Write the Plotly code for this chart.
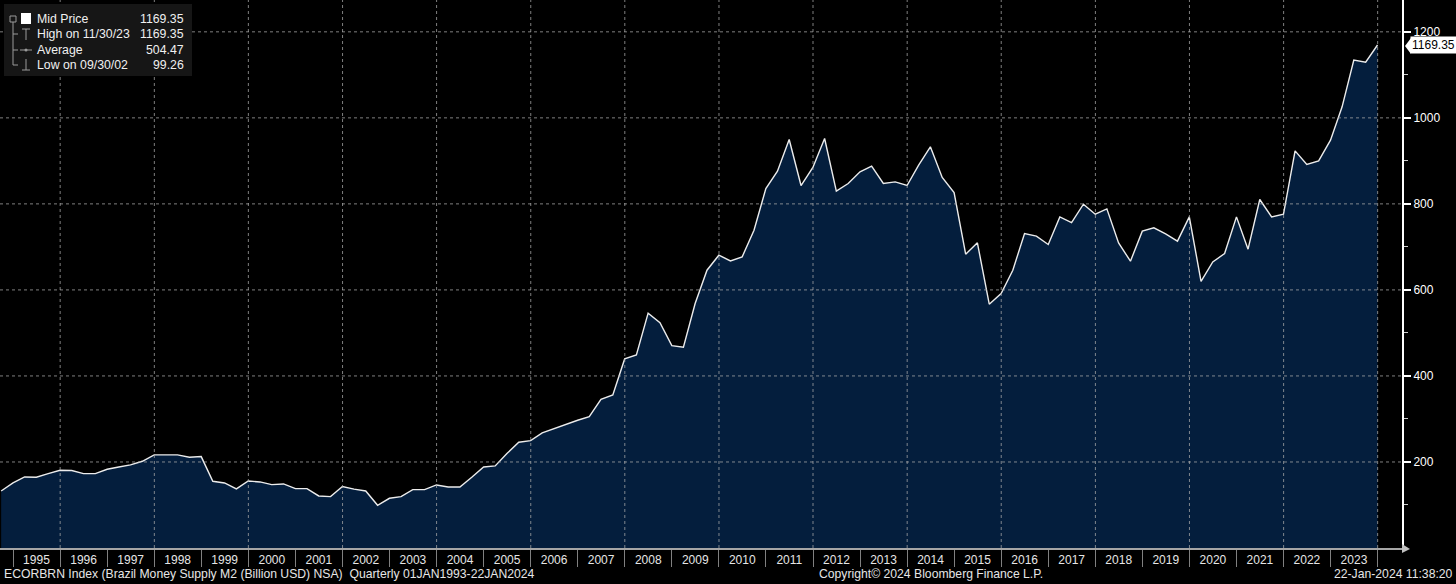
import plotly.graph_objects as go

# Brazil Money Supply M2 (Billion USD), quarterly
quarter_ends = ["03-31", "06-30", "09-30", "12-31"]
dates = [f"{1994 + (k + 2) // 4}-{quarter_ends[(k + 2) % 4]}" for k in range(118)]

m2_values = [
    132.6, 151.2, 165.2, 164.4, 173.0, 180.7, 180.0, 173.0, 173.0, 183.0,
    188.4, 193.1, 201.6, 216.4, 216.4, 216.4, 210.9, 212.5, 155.1, 151.2,
    137.3, 155.9, 153.6, 147.4, 148.9, 138.1, 138.1, 121.0, 119.5, 143.0,
    137.0, 132.6, 99.26, 115.6, 119.5, 135.7, 135.7, 146.6, 141.9, 141.9,
    164.4, 188.4, 190.8, 219.5, 245.8, 249.7, 267.5, 277.6, 286.9, 297.0,
    305.5, 345.8, 355.9, 439.6, 448.9, 546.0, 524.0, 470.6, 466.7, 568.3,
    645.8, 680.7, 667.5, 676.8, 738.8, 835.7, 876.1, 949.7, 842.7, 884.6,
    952.0, 829.5, 847.4, 874.5, 887.7, 847.4, 851.2, 842.7, 890.0, 932.6,
    861.3, 826.4, 683.0, 709.4, 566.7, 591.6, 645.8, 731.1, 724.9, 705.5,
    769.8, 756.7, 799.3, 776.0, 788.4, 709.4, 666.7, 736.5, 744.3, 730.3,
    713.3, 769.8, 620.0, 665.0, 684.6, 769.8, 694.7, 810.2, 769.8, 776.0,
    923.3, 891.5, 900.1, 948.1, 1025.7, 1134.2, 1129.5, 1169.35,
]

years = list(range(1995, 2024))
year_label_pos = [f"{y}-07-01" for y in years]
year_labels = [str(y) for y in years]
grid_years = [f"{y}-01-01" for y in range(1996, 2025, 2)]
y_ticks = [200, 400, 600, 800, 1000, 1200]

legend_labels = ["Mid Price", "High on 11/30/23", "Average", "Low on 09/30/02"]
legend_values = ["1169.35", "1169.35", "504.47", "99.26"]
last_value = 1169.35

footer_left = "ECORBRN Index (Brazil Money Supply M2 (Billion USD) NSA)  Quarterly 01JAN1993-22JAN2024"
footer_mid = "Copyright\u00a9 2024 Bloomberg Finance L.P."
footer_right = "22-Jan-2024 11:38:20"

W, H = 1456, 584
PW, PH = 1402, 548  # plot area in pixels


def px(x):
    return x / PW


def py(y):
    return 1 - y / PH


FONT = "Liberation Sans, Arial, sans-serif"
GRID = "rgba(170,170,170,0.75)"

fig = go.Figure()

fig.add_trace(go.Scatter(
    x=dates,
    y=m2_values,
    mode="lines",
    line=dict(color="#ececec", width=1.4),
    fill="tozeroy",
    fillcolor="#041e3d",
    hoverinfo="x+y",
    showlegend=False,
))

shapes = []
# dotted grid on top of the filled area
for g in grid_years:
    shapes.append(dict(type="line", xref="x", yref="paper", x0=g, x1=g, y0=0, y1=1,
                       line=dict(color=GRID, width=1, dash="dot"), layer="above"))
for v in y_ticks:
    shapes.append(dict(type="line", xref="paper", yref="y", x0=0, x1=1, y0=v, y1=v,
                       line=dict(color=GRID, width=1, dash="dot"), layer="above"))

# legend box
shapes.append(dict(type="rect", xref="paper", yref="paper",
                   x0=px(4), x1=px(192), y0=py(76), y1=py(4),
                   fillcolor="#161616", line=dict(width=0), layer="above"))
row_y = [19, 34, 50, 65]
icon = dict(color="#9a9a9a", width=1)
# tree connector
shapes.append(dict(type="rect", xref="paper", yref="paper", x0=px(10), x1=px(16),
                   y0=py(22), y1=py(16), line=icon, layer="above"))
shapes.append(dict(type="line", xref="paper", yref="paper", x0=px(13), x1=px(13),
                   y0=py(22), y1=py(row_y[3]), line=icon, layer="above"))
for r in row_y[1:]:
    shapes.append(dict(type="line", xref="paper", yref="paper", x0=px(13), x1=px(18),
                       y0=py(r), y1=py(r), line=icon, layer="above"))
# Mid price square
shapes.append(dict(type="rect", xref="paper", yref="paper", x0=px(21), x1=px(31),
                   y0=py(row_y[0] + 5), y1=py(row_y[0] - 6), fillcolor="white",
                   line=dict(width=0), layer="above"))
# High glyph
shapes.append(dict(type="line", xref="paper", yref="paper", x0=px(26), x1=px(26),
                   y0=py(row_y[1] + 6), y1=py(row_y[1] - 5), line=icon, layer="above"))
shapes.append(dict(type="line", xref="paper", yref="paper", x0=px(22), x1=px(30),
                   y0=py(row_y[1] - 5), y1=py(row_y[1] - 5), line=icon, layer="above"))
# Average glyph
shapes.append(dict(type="line", xref="paper", yref="paper", x0=px(20), x1=px(32),
                   y0=py(row_y[2]), y1=py(row_y[2]), line=icon, layer="above"))
shapes.append(dict(type="circle", xref="paper", yref="paper", x0=px(24.5), x1=px(27.5),
                   y0=py(row_y[2] + 1.5), y1=py(row_y[2] - 1.5), fillcolor="#9a9a9a",
                   line=dict(width=0), layer="above"))
# Low glyph
shapes.append(dict(type="line", xref="paper", yref="paper", x0=px(26), x1=px(26),
                   y0=py(row_y[3] + 5), y1=py(row_y[3] - 6), line=icon, layer="above"))
shapes.append(dict(type="line", xref="paper", yref="paper", x0=px(22), x1=px(30),
                   y0=py(row_y[3] + 5), y1=py(row_y[3] + 5), line=icon, layer="above"))

# arrow at the end of the time axis
shapes.append(dict(type="path", xref="paper", yref="paper",
                   path=f"M {px(1402)} {py(544)} L {px(1410)} {py(549)} L {px(1402)} {py(553)} Z",
                   fillcolor="#bfbfbf", line=dict(width=0)))
# pointer of the last value tag
shapes.append(dict(type="path", xref="paper", yref="paper",
                   path=f"M {px(1405)} {py(46)} L {px(1411)} {py(38)} L {px(1411)} {py(54)} Z",
                   fillcolor="white", line=dict(width=0)))

annotations = []
for r, lab, val in zip(row_y, legend_labels, legend_values):
    annotations.append(dict(xref="paper", yref="paper", x=px(35), y=py(r), text=lab,
                            showarrow=False, xanchor="left", yanchor="middle",
                            font=dict(family=FONT, size=12.3, color="#f0f0f0")))
    annotations.append(dict(xref="paper", yref="paper", x=px(186), y=py(r), text=val,
                            showarrow=False, xanchor="right", yanchor="middle",
                            font=dict(family=FONT, size=12.3, color="#f0f0f0")))

annotations.append(dict(xref="paper", yref="y", x=px(1410), y=last_value,
                        text=f"{last_value:.2f}", showarrow=False, xanchor="left",
                        yanchor="middle", bgcolor="white", borderpad=1,
                        font=dict(family=FONT, size=12, color="black")))

for txt, x, anchor in [(footer_left, 2, "left"), (footer_mid, 817, "left"),
                       (footer_right, 1455, "right")]:
    annotations.append(dict(xref="paper", yref="paper", x=px(x), y=py(574), text=txt,
                            showarrow=False, xanchor=anchor, yanchor="middle",
                            font=dict(family=FONT, size=12.2, color="#e6e6e6")))

fig.update_layout(
    width=W,
    height=H,
    margin=dict(l=0, r=W - PW, t=0, b=H - PH, pad=0),
    paper_bgcolor="black",
    plot_bgcolor="black",
    font=dict(family=FONT, size=12, color="#e6e6e6"),
    showlegend=False,
    shapes=shapes,
    annotations=annotations,
    xaxis=dict(
        type="date",
        range=["1994-09-21", "2024-07-08"],
        tickmode="array",
        tickvals=year_label_pos,
        ticktext=year_labels,
        ticks="",
        showgrid=False,
        zeroline=False,
        showline=True,
        linecolor="#a6a6a6",
        linewidth=2,
        tickfont=dict(family=FONT, size=12, color="#e6e6e6"),
        minor=dict(tick0="1995-01-01", dtick="M12", ticks="outside", ticklen=17,
                   tickcolor="#808080", tickwidth=1, showgrid=False),
        automargin=False,
        fixedrange=True,
    ),
    yaxis=dict(
        side="right",
        range=[0, 1274],
        tickmode="array",
        tickvals=y_ticks,
        ticks="outside",
        ticklen=7,
        tickwidth=2,
        tickcolor="white",
        showgrid=False,
        zeroline=False,
        showline=True,
        linecolor="white",
        linewidth=2,
        tickfont=dict(family=FONT, size=12, color="white"),
        minor=dict(dtick=200, tick0=100, ticks="outside", ticklen=4,
                   tickcolor="#cccccc", tickwidth=1, showgrid=False),
        automargin=False,
        fixedrange=True,
    ),
)

# the page body has a default 8px margin; drop it so the figure fills the window
fig.write_html("out.html",
               config={"displayModeBar": False},
               post_script="document.body.style.margin='0';document.body.style.background='black';")
